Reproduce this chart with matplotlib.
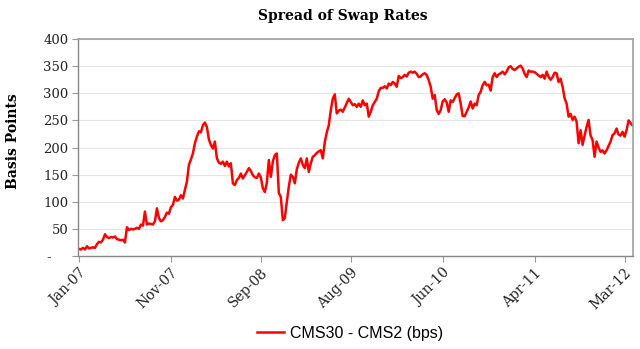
import numpy as np
import matplotlib
matplotlib.use("Agg")
import matplotlib.pyplot as plt

# weekly CMS30 - CMS2 spread in bps, Jan-2007 to Apr-2012
spread = [
    13, 12, 15, 12, 18, 14, 15, 16, 15, 22,
    26, 25, 30, 40, 35, 33, 35, 34, 36, 31,
    30, 29, 30, 25, 53, 48, 50, 49, 50, 52,
    50, 58, 56, 82, 58, 60, 59, 58, 64, 88,
    70, 64, 66, 72, 80, 78, 90, 94, 109, 102,
    104, 112, 106, 122, 137, 168, 178, 189, 208, 220,
    230, 228, 241, 246, 238, 215, 205, 198, 211, 180,
    172, 170, 174, 166, 174, 165, 171, 134, 131, 140,
    144, 152, 143, 149, 155, 162, 157, 149, 145, 144,
    152, 145, 125, 118, 135, 177, 146, 174, 186, 189,
    116, 109, 66, 70, 100, 128, 150, 146, 134, 160,
    172, 180, 168, 162, 180, 155, 171, 183, 186, 190,
    193, 195, 180, 210, 228, 241, 269, 290, 298, 263,
    268, 270, 266, 274, 282, 290, 284, 278, 280, 275,
    281, 275, 287, 278, 281, 257, 266, 278, 284, 290,
    304, 310, 310, 313, 309, 318, 315, 321, 318, 312,
    332, 328, 330, 334, 331, 338, 340, 338, 340, 336,
    330, 331, 335, 337, 334, 324, 312, 290, 297, 269,
    262, 269, 285, 289, 283, 266, 287, 284, 291, 298,
    300, 281, 258, 258, 266, 274, 285, 272, 281, 278,
    297, 303, 315, 321, 315, 316, 305, 330, 337, 330,
    335, 337, 340, 335, 340, 348, 350, 345, 343, 346,
    349, 351, 346, 336, 330, 342, 340, 340, 339, 336,
    333, 330, 334, 327, 340, 330, 325, 330, 338, 337,
    321, 327, 312, 291, 281, 257, 262, 251, 257, 248,
    208, 232, 205, 222, 238, 251, 222, 214, 183, 211,
    200, 192, 195, 189, 195, 203, 211, 223, 226, 235,
    224, 222, 229, 220, 232, 250, 245, 241,
]
tick_labels = ["Jan-07", "Nov-07", "Sep-08", "Aug-09", "Jun-10", "Apr-11", "Mar-12"]
y_ticks = [0, 50, 100, 150, 200, 250, 300, 350, 400]
y_tick_labels = ["-    ", "50", "100", "150", "200", "250", "300", "350", "400"]

weeks = np.arange(len(spread))
tick_pos = np.round(np.arange(len(tick_labels)) * 45.5)

fig = plt.figure(figsize=(6.4, 3.49), dpi=100)
ax = fig.add_axes([0.1225, 0.2665, 0.8665, 0.6215])

ax.plot(weeks, spread, color="#ff0000", lw=1.8, label="CMS30 - CMS2 (bps)")

ax.set_xlim(-0.3, 277.2)
ax.set_ylim(0, 400)
ax.set_yticks(y_ticks)
ax.set_yticklabels(y_tick_labels, family="DejaVu Serif", fontsize=9.5, color="#222222")
ax.set_xticks(tick_pos)
ax.set_xticklabels(tick_labels, family="DejaVu Serif", fontsize=10, color="#222222",
                   rotation=45, ha="right", va="top", rotation_mode="anchor")

ax.grid(axis="y", color="#e6e6e6", lw=0.8)
ax.set_axisbelow(True)
for side in ["top", "right"]:
    ax.spines[side].set_color("#a0a0a0")
    ax.spines[side].set_linewidth(1.2)
for side in ["left", "bottom"]:
    ax.spines[side].set_color("#888888")
    ax.spines[side].set_linewidth(1.0)
ax.tick_params(axis="both", direction="out", length=4, width=0.8, color="#999999", pad=3)

fig.text(0.536, 0.955, "Spread of Swap Rates", family="DejaVu Serif", fontweight="bold",
         fontsize=10, ha="center", va="center")
fig.text(0.021, 0.595, "Basis Points", family="DejaVu Serif", fontweight="bold",
         fontsize=10, rotation=90, ha="center", va="center")

fig.legend(loc="center", bbox_to_anchor=(0.547, 0.045), frameon=False,
           prop={"family": "Liberation Sans", "size": 11.5}, handlelength=1.7,
           handletextpad=0.4)

fig.savefig("out.png", dpi=100)
